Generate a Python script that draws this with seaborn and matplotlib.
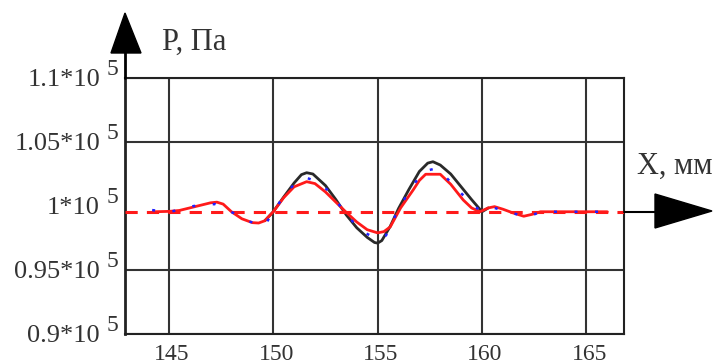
import numpy as np
import pandas as pd
import matplotlib
matplotlib.use("Agg")
import matplotlib.pyplot as plt
import matplotlib.transforms as mtransforms
from matplotlib.patches import Polygon
from matplotlib.lines import Line2D
import seaborn as sns

# pressure values in units of 1e5 Pa
p0 = 0.9955

x_black = [149.6, 150.0, 150.5, 151.0, 151.35, 151.6, 151.9, 152.5, 153.0, 153.5,
           154.0, 154.5, 154.85, 155.0, 155.2, 155.6, 156.0, 156.5, 157.0, 157.4,
           157.65, 158.0, 158.5, 159.0, 159.5, 160.0, 160.3]
p_black = [0.9885, 0.9955, 1.007, 1.018, 1.0245, 1.026, 1.025, 1.016, 1.005, 0.993,
           0.983, 0.9755, 0.9715, 0.971, 0.973, 0.984, 0.998, 1.013, 1.027, 1.0335,
           1.0346, 1.032, 1.025, 1.015, 1.005, 0.9955, 0.9985]

x_red = [144.3, 145.0, 145.5, 146.0, 146.5, 147.0, 147.3, 147.6, 148.0, 148.5,
         149.0, 149.3, 149.6, 150.0, 150.5, 151.0, 151.6, 152.0, 152.5, 153.0,
         153.5, 154.0, 154.5, 155.0, 155.3, 155.6, 156.1, 156.7, 157.0, 157.3,
         158.0, 158.5, 159.1, 159.5, 159.9, 160.3, 160.6, 161.0, 161.5, 162.0,
         162.4, 162.8, 166.0]
p_red = [0.9955, 0.9958, 0.9965, 0.9985, 1.0005, 1.0025, 1.003, 1.0015, 0.9955, 0.990,
         0.987, 0.9867, 0.9885, 0.9955, 1.0065, 1.015, 1.019, 1.0175, 1.011, 1.003,
         0.995, 0.9875, 0.9815, 0.979, 0.980, 0.9836, 0.9985, 1.0125, 1.020, 1.0248,
         1.0248, 1.017, 1.0047, 0.9985, 0.9955, 0.9985, 0.9995, 0.9975, 0.9945, 0.992,
         0.9935, 0.9955, 0.9955]

x_blue = [144.2, 145.0, 146.2, 147.2, 148.1, 148.8, 149.6, 150.0, 150.6, 151.2,
          151.6, 152.1, 152.6, 153.2, 153.8, 154.4, 155.0, 155.4, 156.0, 156.6,
          157.2, 157.7, 158.3, 159.0, 159.6, 160.0, 160.6, 161.3, 162.2, 162.8, 166.0]
p_blue = [0.9968, 0.9952, 1.000, 1.0015, 0.9945, 0.988, 0.985, 0.9955, 1.010, 1.020,
          1.022, 1.019, 1.0125, 1.000, 0.988, 0.979, 0.974, 0.977, 0.9975, 1.014,
          1.027, 1.029, 1.022, 1.010, 1.000, 0.9958, 0.9985, 0.995, 0.9914, 0.9955, 0.9955]

x_ticks = [145, 150, 155, 160, 165]
y_ticks = [0.9, 0.95, 1.0, 1.05, 1.1]
y_tick_text = ["0.9*10", "0.95*10", "1*10", "1.05*10", "1.1*10"]
y_tick_exp = "5"

sns.set_style("white")
plt.rcParams["font.family"] = ["Liberation Serif", "DejaVu Serif"]

W, H = 724, 364
fig = plt.figure(figsize=(W / 100, H / 100), dpi=100)
ax = fig.add_axes([125 / W, 30 / H, 499 / W, 256 / H])

black = pd.DataFrame({"x": x_black, "p": np.array(p_black) * 1e5})
red = pd.DataFrame({"x": x_red, "p": np.array(p_red) * 1e5})
blue = pd.DataFrame({"x": x_blue, "p": np.array(p_blue) * 1e5})

sns.lineplot(data=black, x="x", y="p", ax=ax, color="#2a2a2a", lw=2.0, zorder=3)
sns.lineplot(data=red, x="x", y="p", ax=ax, color="#ff1a1a", lw=2.0, zorder=4)
sns.lineplot(data=blue, x="x", y="p", ax=ax, color="#2020ff", lw=1.8, zorder=5)
ax.lines[-1].set_dashes((1.2, 7))
ax.axhline(p0 * 1e5, color="#ff1a1a", lw=2.2, ls=(0, (4, 3)), zorder=4)

ax.set_xlim(142.9, 166.8)
ax.set_ylim(0.9e5, 1.1e5)
ax.set_xticks(x_ticks)
ax.set_xticklabels([str(v) for v in x_ticks])
ax.set_yticks([v * 1e5 for v in y_ticks])
ax.set_yticklabels(y_tick_text)
ax.set_xlabel("")
ax.set_ylabel("")

ax.grid(True, color="#333333", lw=1.5)
ax.yaxis.get_gridlines()[2].set_visible(False)
ax.set_axisbelow(True)
for s in ax.spines.values():
    s.set_visible(True)
    s.set_color("#222222")
    s.set_linewidth(1.5)
ax.spines["left"].set_linewidth(2.0)

ax.tick_params(axis="both", length=0, colors="#333333")
ax.tick_params(axis="x", labelsize=17, pad=7)
ax.tick_params(axis="y", labelsize=19, pad=18)
shift = mtransforms.ScaledTranslation(3 / 100, 0, fig.dpi_scale_trans)
for lab in ax.get_xticklabels():
    lab.set_transform(lab.get_transform() + shift)

# exponent of the y tick labels, written full size next to each label
sup = mtransforms.blended_transform_factory(ax.transAxes, ax.transData) + \
    mtransforms.ScaledTranslation(-18 / 100, 3 / 100, fig.dpi_scale_trans)
for v in y_ticks:
    ax.text(0, v * 1e5, y_tick_exp, transform=sup, fontsize=17, color="#333333",
            ha="left", va="baseline", clip_on=False)


def fx(px):
    return px / W


def fy(py):
    return 1 - py / H


# axis arrows
fig.add_artist(Line2D([fx(125), fx(125)], [fy(52), fy(78)], color="black", lw=2,
                      transform=fig.transFigure))
fig.add_artist(Polygon([(fx(125), fy(13)), (fx(111), fy(53)), (fx(141), fy(53))],
                       closed=True, color="black", transform=fig.transFigure))
fig.add_artist(Line2D([fx(624), fx(657)], [fy(211.5), fy(211.5)], color="black", lw=1.5,
                      transform=fig.transFigure))
fig.add_artist(Polygon([(fx(655), fy(194)), (fx(655), fy(228)), (fx(712), fy(211))],
                       closed=True, color="black", transform=fig.transFigure))

fig.text(fx(162), fy(50), "P, Па", fontsize=22, color="#333333", va="baseline")
fig.text(fx(637), fy(174), "X, мм", fontsize=22, color="#333333", va="baseline")

fig.savefig("out.png", dpi=100, facecolor="white")
